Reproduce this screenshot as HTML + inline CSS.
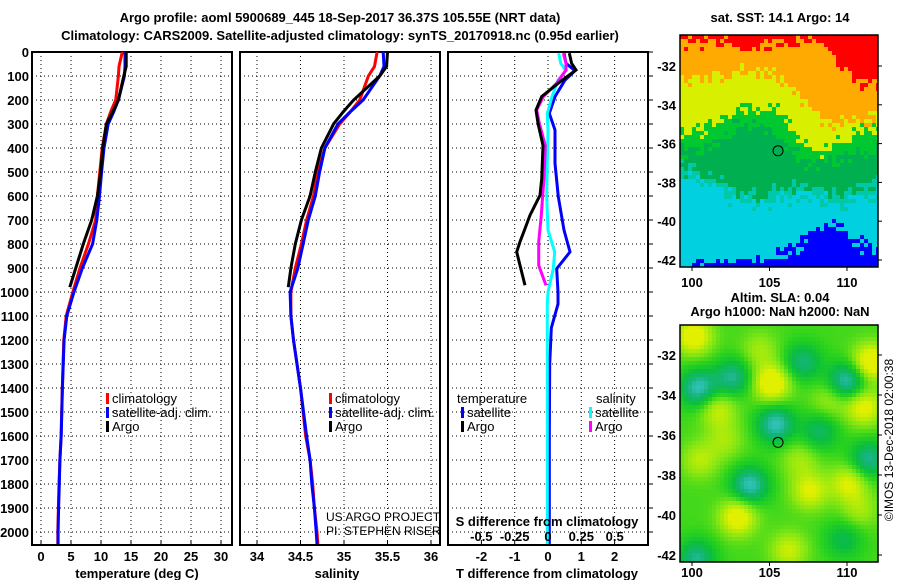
<!DOCTYPE html>
<html><head><meta charset="utf-8"><style>
html,body{margin:0;padding:0;background:#fff;}
svg{display:block;font-family:"Liberation Sans",sans-serif;}
.b{font-weight:bold;font-size:13px;}
.l{font-size:13px;}
</style></head><body>
<svg id="fig" width="900" height="580" viewBox="0 0 900 580" xmlns="http://www.w3.org/2000/svg">
<defs>
<clipPath id="c1"><rect x="32" y="52" width="200" height="493"/></clipPath>
<clipPath id="c2"><rect x="240" y="52" width="200" height="493"/></clipPath>
<clipPath id="c3"><rect x="448" y="52" width="200" height="493"/></clipPath>
</defs>
<text class="b" x="340" y="22" text-anchor="middle" font-size="14">Argo profile: aoml 5900689_445 18-Sep-2017 36.37S 105.55E (NRT data)</text>
<text class="b" x="340" y="40" text-anchor="middle" font-size="14">Climatology: CARS2009. Satellite-adjusted climatology: synTS_20170918.nc (0.95d earlier)</text>
<g id="p1"></g>
<g id="p2"></g>
<g id="p3"></g>
<g id="m1"></g>
<g id="m2"></g>
<text class="b" x="780" y="22" text-anchor="middle">sat. SST: 14.1 Argo: 14</text>
<text class="b" x="780" y="302" text-anchor="middle">Altim. SLA: 0.04</text>
<text class="b" x="780" y="316" text-anchor="middle">Argo h1000: NaN h2000: NaN</text>
<text x="893" y="440" font-size="12" text-anchor="middle" transform="rotate(-90 893 440)">©IMOS 13-Dec-2018 02:00:38</text>
</svg>
<script>
// ---- data ----
const depthTA=[0,60,100,200,250,300,400,500,600,700,800,900,980];
const tempArgo=[14.2,14.2,13.8,12.9,11.95,10.9,10.3,9.95,9.4,8.45,7.05,5.8,4.8];
const depthC=[0,60,100,200,250,300,400,500,600,700,800,900,1000,1100,1200,1400,1600,1700,1800,1900,2000,2050];
const tempClim=[13.55,13.0,12.9,12.45,11.6,10.9,10.2,9.8,9.4,9.1,7.9,6.5,5.3,4.2,3.8,3.55,3.35,3.15,3.0,2.9,2.8,2.8];
const tempSat=[14.0,14.0,13.9,12.9,12.1,11.2,10.5,10.1,9.75,9.3,8.6,6.9,5.5,4.3,3.85,3.57,3.37,3.15,3.05,2.94,2.85,2.85];
const salArgo=[35.50,35.49,35.41,35.11,34.99,34.88,34.74,34.67,34.61,34.51,34.44,34.39,34.36];
const salClim=[35.38,35.35,35.28,35.18,35.07,34.95,34.78,34.70,34.65,34.57,34.51,34.44,34.39,34.39,34.42,34.50,34.56,34.61,34.64,34.66,34.69,34.70];
const salSat=[35.45,35.46,35.41,35.22,35.07,34.93,34.78,34.72,34.67,34.59,34.53,34.47,34.38,34.39,34.42,34.50,34.57,34.61,34.63,34.66,34.68,34.69];
const depthD=[5,47,75,130,186,242,297,390,529,597,680,736,791,833,889,972];
const dTArgo=[0.64,0.71,0.84,0.31,-0.19,-0.36,-0.3,-0.15,-0.19,-0.24,-0.54,-0.69,-0.84,-0.94,-0.84,-0.69];
const dSArgo=[0.115,0.135,0.135,0.065,-0.035,-0.085,-0.065,-0.02,-0.03,-0.04,-0.05,-0.06,-0.07,-0.07,-0.07,-0.015];
const depthDS=[5,47,78,117,186,256,325,464,603,742,833,903,1000,1050,1150,1300,1600,2050];
const dTSat=[0.48,0.54,0.81,0.51,0.21,0.04,0.21,0.21,0.31,0.48,0.66,0.26,0.3,0.3,0.1,0.05,0.04,0.04];
const dSSat=[0.08,0.095,0.135,0.075,0.03,-0.005,0.0,-0.005,-0.01,0.0,0.05,0.04,0.0,-0.005,-0.005,-0.005,-0.005,-0.005];
const depthTicks=[0,100,200,300,400,500,600,700,800,900,1000,1100,1200,1300,1400,1500,1600,1700,1800,1900,2000];
const tempTicks=[0,5,10,15,20,25,30];
const salTicks=[34,34.5,35,35.5,36];
const tdTicks=[-2,-1,0,1,2];
const sdTicks=[-0.5,-0.25,0,0.25,0.5];
const sdTickLabels=['-0.5','-0.25','0','0.25','0.5'];
const lonTicks=[100,105,110];
const latTicks=[-32,-34,-36,-38,-40,-42];
const argoPos=[105.55,-36.37];

const NS='http://www.w3.org/2000/svg';
function mk(parent,tag,attrs,text){const e=document.createElementNS(NS,tag);for(const k in attrs)e.setAttribute(k,attrs[k]);if(text!==undefined)e.textContent=text;parent.appendChild(e);return e;}
const yD=d=>52+d*0.24;
const xT=t=>41+t*6;
const xS=s=>257+(s-34)*87;
const xTD=v=>548+v*33.3;
const xSD=v=>548+v*133.3;

function panel(g,x0,xTicksV,xf,labels){
  for(const d of depthTicks){
    const ln=mk(g,'line',{x1:x0,x2:x0+200,y1:yD(d),y2:yD(d),stroke:'#000','stroke-dasharray':'1,3','stroke-width':1});
    
    
  }
  xTicksV.forEach((v,i)=>{
    const ln=mk(g,'line',{x1:xf(v),x2:xf(v),y1:52,y2:545,stroke:'#000','stroke-dasharray':'1,3','stroke-width':1});
    
    
    const tk=mk(g,'line',{x1:xf(v),x2:xf(v),y1:545,y2:540,stroke:'#000'});
    
    
    if(labels){const t=mk(g,'text',{x:xf(v),y:561,'text-anchor':'middle',class:'b'},labels[i]);
      
      }
  });
  const fr=mk(g,'rect',{x:x0,y:52,width:200,height:493,fill:'none',stroke:'#000','stroke-width':2});
  
  
}
function line(g,xs,ds,xf,col,name,clip){
  const pts=xs.map((v,i)=>xf(v).toFixed(1)+','+yD(ds[i]).toFixed(1)).join(' ');
  const p=mk(g,'polyline',{points:pts,fill:'none',stroke:col,'stroke-width':3,'clip-path':'url(#'+clip+')'});
  
  
}
function legend(g,x,y,col,txt,name){
  const r=mk(g,'rect',{x:x,y:y-10,width:3,height:11,fill:col});
  
  
  const t=mk(g,'text',{x:x+6,y:y,class:'l'},txt);
  
  
}

// panel 1
const p1=document.getElementById('p1');
panel(p1,32,tempTicks,xT,tempTicks.map(String));
depthTicks.forEach(d=>{const t=mk(p1,'text',{x:29,y:yD(d)+5,'text-anchor':'end',class:'b'},String(d));
  
  });
line(p1,tempClim,depthC,xT,'#f00','temp-climatology-line','c1');
line(p1,tempSat,depthC,xT,'#00f','temp-satellite-line','c1');
line(p1,tempArgo,depthTA,xT,'#000','temp-argo-line','c1');
legend(p1,106,403,'#f00','climatology','legend-climatology');
legend(p1,106,417,'#00f','satellite-adj. clim.','legend-satellite');
legend(p1,106,431,'#000','Argo','legend-argo');
{const t=mk(p1,'text',{x:137,y:578,'text-anchor':'middle',class:'b'},'temperature (deg C)');}

// panel 2
const p2=document.getElementById('p2');
panel(p2,240,salTicks,xS,salTicks.map(String));
line(p2,salClim,depthC,xS,'#f00','sal-climatology-line','c2');
line(p2,salSat,depthC,xS,'#00f','sal-satellite-line','c2');
line(p2,salArgo,depthTA,xS,'#000','sal-argo-line','c2');
legend(p2,329,403,'#f00','climatology','legend-climatology-2');
legend(p2,329,417,'#00f','satellite-adj. clim.','legend-satellite-2');
legend(p2,329,431,'#000','Argo','legend-argo-2');
{const g=mk(p2,'g',{'clip-path':'url(#c2)'});
 const a=mk(g,'text',{x:326,y:521,'font-size':'12'},'US ARGO PROJECT');
 const b=mk(g,'text',{x:326,y:535,'font-size':'12'},'PI: STEPHEN RISER');}
{const t=mk(p2,'text',{x:337,y:578,'text-anchor':'middle',class:'b'},'salinity');}

// panel 3
const p3=document.getElementById('p3');
panel(p3,448,tdTicks,xTD,tdTicks.map(String));
depthTicks.forEach(d=>{const t=mk(p3,'line',{x1:648,x2:653,y1:yD(d),y2:yD(d),stroke:'#000'});});
line(p3,dTSat,depthDS,xTD,'#00f','tdiff-satellite-line','c3');
line(p3,dSSat,depthDS,xSD,'#0ff','sdiff-satellite-line','c3');
line(p3,dSArgo,depthD,xSD,'#f0f','sdiff-argo-line','c3');
line(p3,dTArgo,depthD,xTD,'#000','tdiff-argo-line','c3');
{const t=mk(p3,'text',{x:457,y:403,class:'l'},'temperature');
 const s=mk(p3,'text',{x:596,y:403,class:'l'},'salinity');}
legend(p3,461,417,'#00f','satellite','legend-t-satellite');
legend(p3,461,431,'#000','Argo','legend-t-argo');
legend(p3,589,417,'#0ff','satellite','legend-s-satellite');
legend(p3,589,431,'#f0f','Argo','legend-s-argo');
{const t=mk(p3,'text',{x:547,y:526,'text-anchor':'middle',class:'b'},'S difference from climatology');}
sdTicks.forEach((v,i)=>{const t=mk(p3,'text',{x:xSD(v),y:541,'text-anchor':'middle',class:'b'},sdTickLabels[i]);});
{const t=mk(p3,'text',{x:547,y:578,'text-anchor':'middle',class:'b'},'T difference from climatology');}

// ---- maps ----
function hash(a,b){let h=(a*374761393+b*668265263)|0;h=(h^(h>>>13))*1274126177|0;return ((h^(h>>>16))>>>0)/4294967296;}
function interp(xs,ys,x){if(x<=xs[0])return ys[0];for(let i=1;i<xs.length;i++){if(x<=xs[i]){const f=(x-xs[i-1])/(xs[i]-xs[i-1]);return ys[i-1]+f*(ys[i]-ys[i-1]);}}return ys[ys.length-1];}
const bx=[680,700,720,740,760,780,800,820,840,860,878];
const bRed=[42,44,40,52,45,40,42,40,68,83,83];
const bOr=[80,78,75,72,70,75,95,118,125,120,115];
const bYe=[130,130,118,108,108,112,145,152,140,132,130];
const bGr=[150,150,140,125,125,135,160,165,160,150,150];
const bTe=[178,182,192,202,206,200,196,200,205,196,192];
const bBl=[263,262,263,263,263,255,245,225,225,245,248];
const sstCols=['#ff0000','#ffaa00','#d8f000','#00c830','#00b050','#00c8a8','#00d0e0','#0000ff'];
const m1=document.getElementById('m1');
{let s='';const cs=4;
 for(let x=680;x<878;x+=cs){for(let y=35;y<267;y+=cs){
   const cx=x+2,cy=y+2,j=(hash(x,y)-0.5)*18;const yy=cy+j;
   let k;
   if(yy<interp(bx,bRed,cx))k=0;else if(yy<interp(bx,bOr,cx))k=1;else if(yy<interp(bx,bYe,cx))k=2;
   else if(yy<interp(bx,bGr,cx))k=3;else if(yy<interp(bx,bTe,cx)-10)k=4;else if(yy<interp(bx,bTe,cx))k=5;
   else if(yy<interp(bx,bBl,cx))k=6;else k=7;
   s+='<rect x="'+x+'" y="'+y+'" width="'+Math.min(cs,878-x)+'" height="'+Math.min(cs,267-y)+'" fill="'+sstCols[k]+'"/>';
 }}
 const g=mk(m1,'g',{});g.innerHTML=s;
 
 }
const blobs=[[699,388,-1],[733,377,-0.8],[803,362,-0.7],[847,381,-1],[776,424,-1],[750,485,-1],[869,459,-0.8],[820,431,-0.6],[697,558,-0.8],[844,539,-0.5],
 [694,336,0.9],[772,383,1],[871,362,1],[864,407,0.8],[738,517,0.9],[810,491,0.7],[849,483,0.7],[718,409,0.6],[789,550,0.6],[700,460,0.5],[830,400,0.4],[760,350,0.4],[725,440,0.4],[800,460,0.4],[860,510,0.4]];
function slaCol(v){
 const stops=[[-1,[60,200,210]],[-0.6,[20,180,120]],[-0.3,[10,190,60]],[0,[40,210,30]],[0.35,[130,230,20]],[0.8,[225,240,0]]];
 if(v<=stops[0][0])return stops[0][1];
 for(let i=1;i<stops.length;i++){if(v<=stops[i][0]){const f=(v-stops[i-1][0])/(stops[i][0]-stops[i-1][0]);return stops[i-1][1].map((c,j)=>Math.round(c+f*(stops[i][1][j]-c)));}}
 return stops[stops.length-1][1];}
const m2=document.getElementById('m2');
{let s='';const cs=4;
 for(let x=680;x<878;x+=cs){for(let y=325;y<562;y+=cs){
  let v=0.1;for(const b of blobs){const dx=x+2-b[0],dy=y+2-b[1];v+=b[2]*Math.exp(-(dx*dx+dy*dy)/(2*13*13));}
  const c=slaCol(v);
  s+='<rect x="'+x+'" y="'+y+'" width="'+Math.min(cs,878-x)+'" height="'+Math.min(cs,562-y)+'" fill="rgb('+c.join(',')+')"/>';
 }}
 const g=mk(m2,'g',{});g.innerHTML=s;
 
 }
function mapAxes(g,top,bottom,lat0y,latStep,lonLabelY){
 const fr=mk(g,'rect',{x:680,y:top,width:198,height:bottom-top,fill:'none',stroke:'#000','stroke-width':1.5});
 
 
 const lonX=l=>692+(l-100)*15.5;
 lonTicks.forEach(l=>{const t=mk(g,'text',{x:lonX(l),y:lonLabelY,'text-anchor':'middle',class:'b'},String(l));
  
  
  mk(g,'line',{x1:lonX(l),x2:lonX(l),y1:bottom,y2:bottom+4,stroke:'#000'});});
 latTicks.forEach(la=>{const y=lat0y+(-32-la)*latStep;
  const t=mk(g,'text',{x:676,y:y+5,'text-anchor':'end',class:'b'},String(la));
  
  
  mk(g,'line',{x1:878,x2:882,y1:y,y2:y,stroke:'#000'});});
 const cx=lonX(argoPos[0]),cy=lat0y+(-32-argoPos[1])*latStep;
 const c=mk(g,'circle',{cx:cx,cy:cy,r:5,fill:'none',stroke:'#000'});
 
 
}
mapAxes(m1,35,267,66,19.4,287);
mapAxes(m2,325,562,355,20,577);
</script>
</body></html>
